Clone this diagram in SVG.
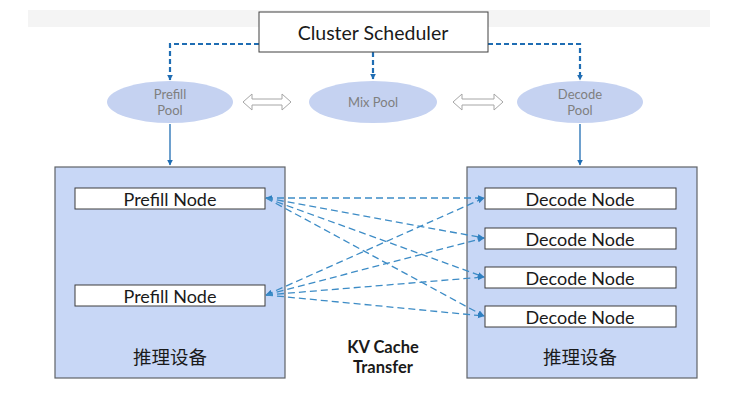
<svg xmlns="http://www.w3.org/2000/svg" width="731" height="403" viewBox="0 0 731 403">
<defs>
<style>
.t{font-family:Lato,"Noto Sans","Noto Sans CJK SC",sans-serif;fill:#1a1a1a;text-anchor:middle;dominant-baseline:central}
.pool{fill:#c5d2f1;stroke:none}
.pt{font-family:Lato,"Noto Sans",sans-serif;fill:#7f7f7f;font-size:13px;text-anchor:middle;dominant-baseline:central}
.dev{fill:#c8d7f6;stroke:#5f6368;stroke-width:1.2}
.node{fill:#ffffff;stroke:#3c3c3c;stroke-width:1}
.sched{fill:none;stroke:#1f6db3;stroke-width:2.2;stroke-dasharray:5 3}
.kv{fill:none;stroke:#3d8cc6;stroke-width:1.3;stroke-dasharray:7 4}
.solid{fill:none;stroke:#1f6db3;stroke-width:1.3}
.dbl{fill:#ffffff;stroke:#a6a6a6;stroke-width:1}
</style>
<marker id="ah" viewBox="0 0 10 10" refX="9" refY="5" markerWidth="6" markerHeight="6" orient="auto-start-reverse" markerUnits="userSpaceOnUse"><path d="M0,0 L10,5 L0,10 z" fill="#1f6db3"/></marker>
<marker id="ak" viewBox="0 0 10 10" refX="9" refY="5" markerWidth="7" markerHeight="7" orient="auto-start-reverse" markerUnits="userSpaceOnUse"><path d="M0,1 L10,5 L0,9 z" fill="#2f7fc0"/></marker>
</defs>
<rect x="0" y="0" width="731" height="403" fill="#ffffff"/>
<rect x="28" y="10" width="682" height="17" fill="#f4f4f4"/>

<g id="devices">
<rect id="left-device" class="dev" x="55" y="167" width="230" height="211"/>
<rect id="right-device" class="dev" x="467" y="167" width="230" height="211"/>
<text class="t" x="170" y="357" font-size="18.5">推理设备</text>
<text class="t" x="580" y="357" font-size="18.5">推理设备</text>
</g>

<g id="connectors">
<path class="sched" d="M259,44 H170 V80" marker-end="url(#ah)"/>
<path class="sched" d="M488,44 H580 V80" marker-end="url(#ah)"/>
<path class="sched" d="M373,52 V79" marker-end="url(#ah)"/>
<path class="solid" d="M170,124 V165" marker-end="url(#ah)"/>
<path class="solid" d="M580,124 V165" marker-end="url(#ah)"/>
<g id="kv-lines">
<line class="kv" x1="266" y1="198" x2="484" y2="198" marker-start="url(#ak)" marker-end="url(#ak)"/>
<line class="kv" x1="266" y1="198" x2="484" y2="238" marker-end="url(#ak)"/>
<line class="kv" x1="266" y1="198" x2="484" y2="277" marker-end="url(#ak)"/>
<line class="kv" x1="266" y1="198" x2="484" y2="316" marker-end="url(#ak)"/>
<line class="kv" x1="266" y1="295" x2="484" y2="198" marker-start="url(#ak)" marker-end="url(#ak)"/>
<line class="kv" x1="266" y1="295" x2="484" y2="238" marker-end="url(#ak)"/>
<line class="kv" x1="266" y1="295" x2="484" y2="277" marker-end="url(#ak)"/>
<line class="kv" x1="266" y1="295" x2="484" y2="316" marker-end="url(#ak)"/>
</g>
</g>

<g id="scheduler">
<rect x="259" y="12" width="229" height="40" fill="#ffffff" stroke="#404040" stroke-width="1"/>
<text class="t" x="373" y="32" font-size="19.5">Cluster Scheduler</text>
</g>

<g id="prefill-pool">
<ellipse class="pool" cx="170" cy="102" rx="63" ry="21"/>
<text class="pt" x="170" y="94">Prefill</text>
<text class="pt" x="170" y="110">Pool</text>
</g>
<g id="mix-pool">
<ellipse class="pool" cx="373" cy="102" rx="64" ry="21"/>
<text class="pt" x="373" y="102">Mix Pool</text>
</g>
<g id="decode-pool">
<ellipse class="pool" cx="580" cy="102" rx="63" ry="21"/>
<text class="pt" x="580" y="94">Decode</text>
<text class="pt" x="580" y="110">Pool</text>
</g>

<g id="pool-exchange">
<path class="dbl" d="M243,102 L252,94 V99 H282 V94 L291,102 L282,110 V105 H252 V110 Z"/>
<path class="dbl" d="M453,102 L462,94 V99 H494 V94 L503,102 L494,110 V105 H462 V110 Z"/>
</g>

<g id="prefill-node-1"><rect class="node" x="75" y="188" width="190" height="21"/><text class="t" x="170" y="198.5" font-size="18">Prefill Node</text></g>
<g id="prefill-node-2"><rect class="node" x="75" y="285" width="190" height="21"/><text class="t" x="170" y="295.5" font-size="18">Prefill Node</text></g>
<g id="decode-node-1"><rect class="node" x="485" y="188" width="191" height="21"/><text class="t" x="580" y="198.5" font-size="18">Decode Node</text></g>
<g id="decode-node-2"><rect class="node" x="485" y="228" width="191" height="21"/><text class="t" x="580" y="238.5" font-size="18">Decode Node</text></g>
<g id="decode-node-3"><rect class="node" x="485" y="267" width="191" height="21"/><text class="t" x="580" y="277.5" font-size="18">Decode Node</text></g>
<g id="decode-node-4"><rect class="node" x="485" y="306" width="191" height="21"/><text class="t" x="580" y="316.5" font-size="18">Decode Node</text></g>

<g id="kv-label">
<text class="t" x="383" y="347" font-size="16.5" font-weight="bold">KV Cache</text>
<text class="t" x="383" y="367" font-size="16.5" font-weight="bold">Transfer</text>
</g>
</svg>
